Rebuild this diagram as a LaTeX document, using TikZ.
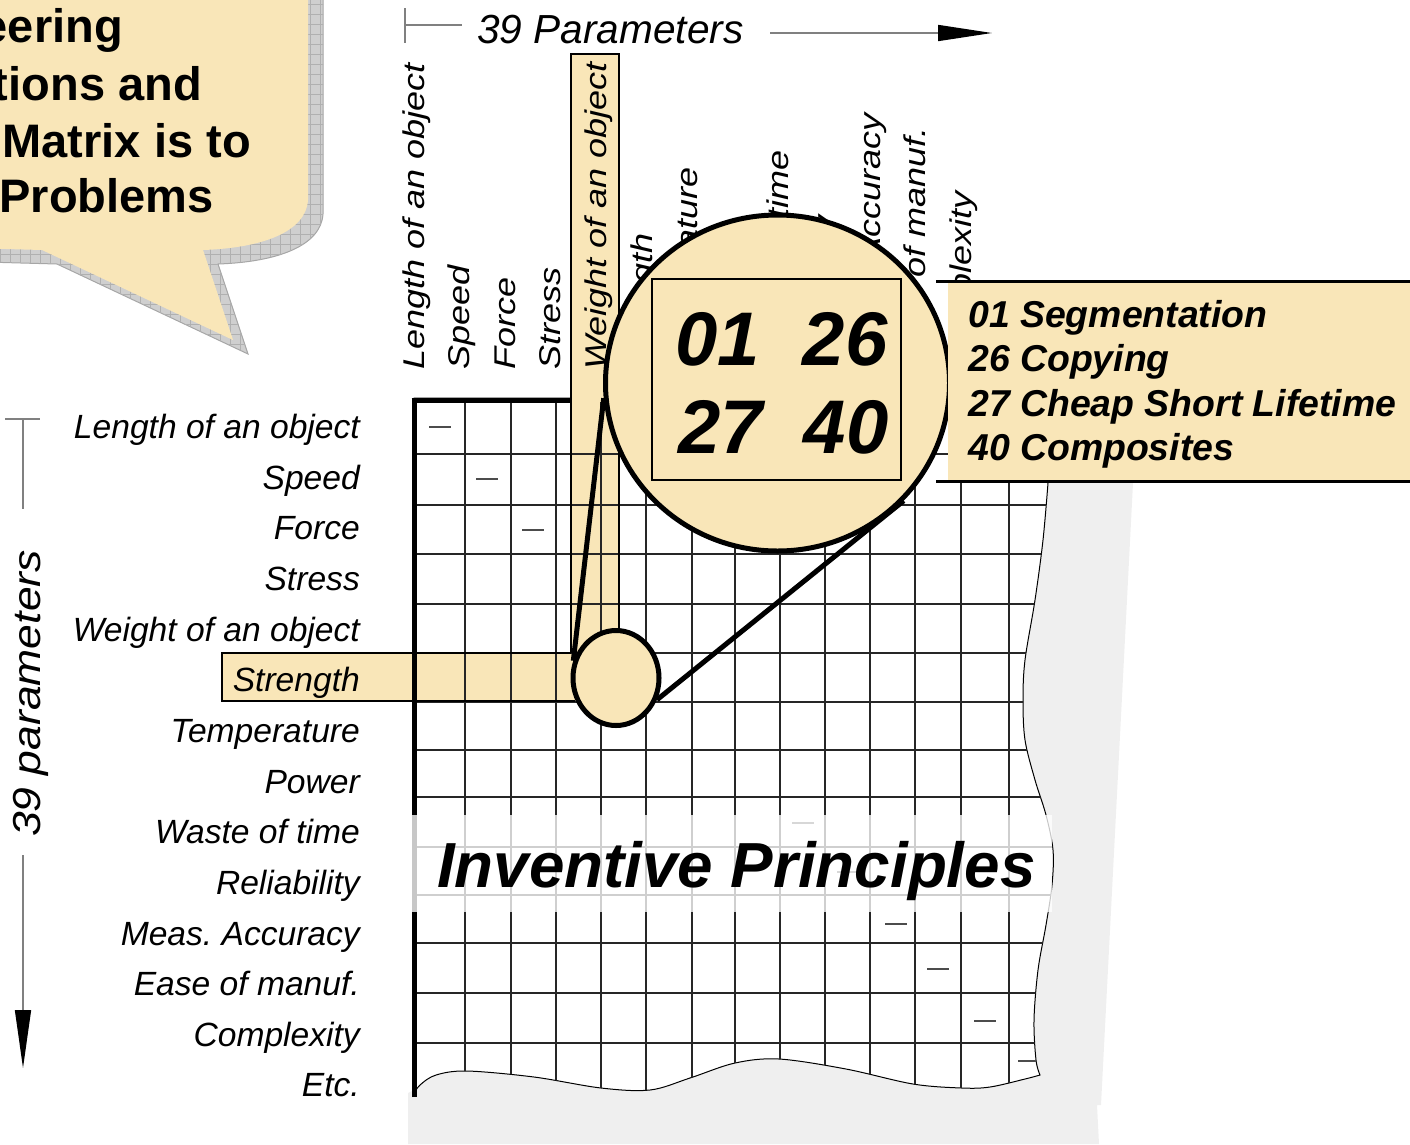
\documentclass[tikz,border=0pt]{standalone}
\usepackage{fontspec}
\setmainfont{Liberation Sans}
\newfontfamily\colfont[FakeStretch=1.2]{Liberation Sans}
\newfontfamily\sidefont[FakeStretch=1.14]{Liberation Sans}
\usetikzlibrary{shapes.geometric,arrows.meta,patterns.meta}
\definecolor{beige}{RGB}{249,230,184}
\definecolor{papershadow}{RGB}{239,239,239}
\newcommand\paperpath[1]{\path[#1] (414,398) -- (1048,398)
  -- plot[smooth,tension=.55] coordinates {(1048,483) (1043,540) (1035,600) (1025,660) (1023,700) (1025,740) (1035,780) (1046,815) (1053,850) (1052,885) (1046,925) (1038,970) (1034,1020) (1036,1060) (1040,1075)}
  -- plot[smooth,tension=.55] coordinates {(1040,1075) (1025,1079) (990,1087) (962,1088) (913,1084) (846,1069) (779,1059) (735,1063) (690,1078) (650,1090) (601,1088) (534,1077) (467,1071) (436,1075) (420,1085) (413,1095)}
  -- cycle;}
\newcommand\bubblepath[1]{\path[#1] (-30,-30) -- (308,-30) -- (308,200) .. controls (306,232) and (262,248) .. (203,250) -- (233,340) -- (42,250) -- (-30,248) -- cycle;}
\begin{document}
\frenchspacing
\begin{tikzpicture}[x=1pt,y=-1pt,
  collabel/.style={rotate=90,anchor=base west,inner sep=0pt,font=\colfont\itshape\fontsize{30}{36}\selectfont},
  rowlabel/.style={anchor=base east,inner sep=0pt,font=\itshape\fontsize{33.6}{40}\selectfont},
  gridline/.style={line width=1.3pt,black!85},
  diag/.style={line width=1.3pt,black!70},
  thickline/.style={line width=5pt,black},
  barline/.style={line width=2.5pt,black},
  guide/.style={line width=1.6pt,gray},
  lensline/.style={line width=5pt,black},
  bignum/.style={anchor=base,inner sep=0pt,font=\bfseries\itshape\fontsize{76}{80}\selectfont},
  princ/.style={anchor=base west,inner sep=0pt,font=\bfseries\itshape\fontsize{37.4}{44}\selectfont},
  bubbletext/.style={anchor=base east,inner sep=0pt,font=\bfseries\fontsize{47}{56}\selectfont},
]
\useasboundingbox (0,0) rectangle (1410,1144);

% shadow of the paper
\fill[papershadow] (414,1000) -- (414,1090) -- (408,1093) -- (408,1144) -- (1099,1144) -- (1097,1105) -- (1101,1105) -- (1133,483) -- (1000,483) -- cycle;
% paper
\paperpath{fill=white,draw=black,line width=1pt}

% highlighted column and row
\fill[beige] (571,54) rectangle (619,665);
\fill[beige] (222,653) rectangle (600,701);

% grid
\begin{scope}
\paperpath{clip}
\foreach \x in {465,511,556,601,646,692,735,780,825,870,915,961,1009}
  \draw[gridline] (\x,402) -- (\x,1110);
\foreach \y in {454,505,554,604,653,702,750,797,847,895,943,993,1043}
  \draw[gridline] (414,\y) -- (1060,\y);
\foreach \x/\y in {440/427,487/479,533/530,803/823,848/872,896/924,938/969,985/1021,1029/1061}
  \draw[diag] (\x-11,\y) -- (\x+11,\y);
\end{scope}

% borders
\draw[thickline] (414,398) -- (414,1097);
\draw[thickline] (411.5,400) -- (571,400);
\draw[barline] (571,653) -- (571,54) -- (619,54) -- (619,640);
\draw[barline] (571,653) -- (222,653) -- (222,701) -- (575,701);

% column labels
\foreach \i/\t in {1/Length of an object,2/Speed,3/Force,4/Stress,5/Weight of an object,6/Strength,7/Temperature,9/Waste of time,10/Reliability,11/Meas. Accuracy,12/Ease of manuf.,13/Complexity}
  \node[collabel] (col\i) at ({424+45.6*(\i-1)},370) {\t};

% row labels
\foreach \i/\t in {1/Length of an object,2/Speed,3/Force,4/Stress,5/Weight of an object,6/Strength,7/Temperature,8/Power,9/Waste of time,10/Reliability,11/Meas. Accuracy,12/Ease of manuf.,13/Complexity,14/Etc.}
  \node[rowlabel] (row\i) at (360,{438.5+50.65*(\i-1)}) {\t};

% Inventive Principles
\fill[white,fill opacity=.78] (410,815) rectangle (1052,912);
\node[anchor=base west,inner sep=0pt,font=\bfseries\itshape\fontsize{63.7}{70}\selectfont] (ip) at (437,887) {Inventive Principles};

% magnifier
\coordinate (lensc) at (616,678);
\coordinate (zoomc) at (777.5,383);
\node[ellipse,minimum width=86pt,minimum height=95pt,inner sep=0pt,outer sep=2.5pt] (lensgeo) at (lensc) {};
\node[ellipse,minimum width=344pt,minimum height=336pt,inner sep=0pt,outer sep=2.5pt] (zoomgeo) at (zoomc) {};
\draw[lensline] (lensgeo.158) -- (zoomgeo.185);
\draw[lensline] (lensgeo.332) -- (zoomgeo.317);
\node[ellipse,draw,line width=5pt,fill=beige,minimum width=86pt,minimum height=95pt,inner sep=0pt] (lens) at (lensc) {};
\node[ellipse,draw,line width=5pt,fill=beige,minimum width=344pt,minimum height=336pt,inner sep=0pt] (zoom) at (zoomc) {};
\node[draw,line width=2pt,minimum width=249pt,minimum height=201pt,inner sep=0pt] (numbox) at (776.5,379.5) {};
\node[bignum] (n01) at (718,365) {01};
\node[bignum] (n26) at (845,365) {26};
\node[bignum] (n27) at (721,453) {27};
\node[bignum] (n40) at (846,453) {40};

% principle list
\fill[beige] (948,281) rectangle (1420,481);
\draw[line width=3pt] (936,281) -- (1420,281);
\draw[line width=3pt] (936,481) -- (1420,481);
\node[princ] (p01) at (968,327) {01 Segmentation};
\node[princ] (p26) at (968,371) {26 Copying};
\node[princ] (p27) at (968,416) {27 Cheap Short Lifetime};
\node[princ] (p40) at (968,460) {40 Composites};

% speech bubble
\bubblepath{shift={(15,14)},fill=gray!38,draw=gray!70,line width=1pt,
  postaction={pattern={Lines[angle=0,distance=10pt,line width=0.7pt]},pattern color=gray!62},
  postaction={pattern={Lines[angle=90,distance=10pt,line width=0.7pt]},pattern color=gray!62}}
\bubblepath{fill=beige}
\node[bubbletext] (b1) at (123,42) {eering};
\node[bubbletext] (b2) at (202,100) {tions and};
\node[bubbletext] (b3) at (251,157) {Matrix is to};
\node[bubbletext] (b4) at (214,212) {Problems};

% top axis
\coordinate (ttick) at (405,25);
\coordinate (tgap) at (462,25);
\coordinate (tstart) at (770,33);
\coordinate (tend) at (992,33);
\draw[guide] (405,8) -- (405,43);
\draw[guide] (ttick) -- (tgap);
\node[anchor=base west,inner sep=0pt,font=\itshape\fontsize{40.6}{48}\selectfont] (toplabel) at (477,43) {39 Parameters};
\draw[guide,-{Triangle[length=54pt,width=16pt,color=black]}] (tstart) -- (tend);

% left axis
\coordinate (ltick) at (23,419);
\coordinate (lgap) at (23,509);
\coordinate (lstart) at (23,855);
\coordinate (lend) at (23,1068);
\draw[guide] (5,419) -- (40,419);
\draw[guide] (ltick) -- (lgap);
\node[rotate=90,anchor=base west,inner sep=0pt,font=\sidefont\itshape\fontsize{39}{46}\selectfont] (sidelabel) at (40,837) {39 parameters};
\draw[guide,-{Triangle[length=58pt,width=16pt,color=black]}] (lstart) -- (lend);
\end{tikzpicture}
\end{document}
